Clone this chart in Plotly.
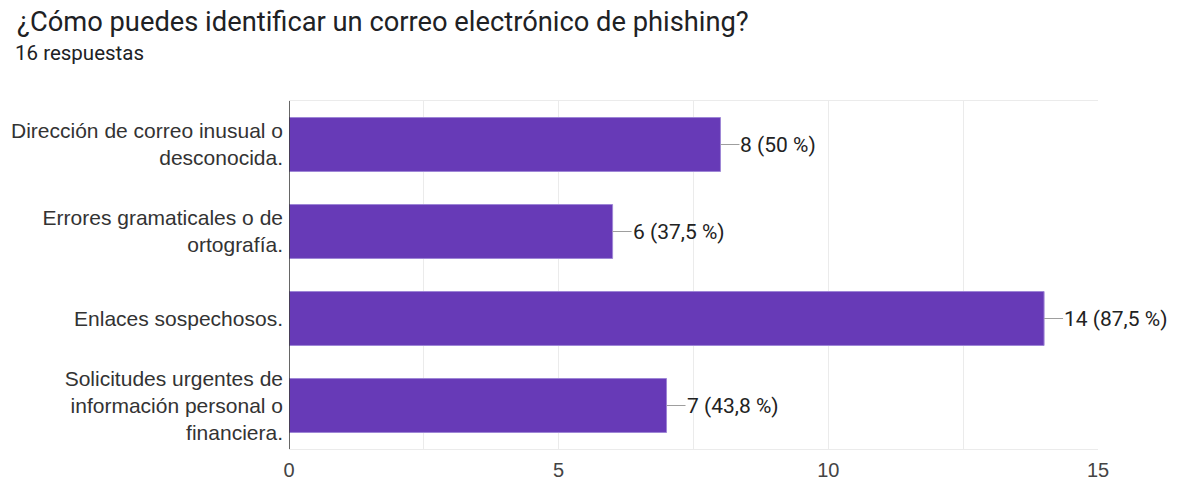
import plotly.graph_objects as go

categories = [
    "Dirección de correo inusual o<br>desconocida.",
    "Errores gramaticales o de<br>ortografía.",
    "Enlaces sospechosos.",
    "Solicitudes urgentes de<br>información personal o<br>financiera.",
]
counts = [8, 6, 14, 7]
labels = ["8 (50 %)", "6 (37,5 %)", "14 (87,5 %)", "7 (43,8 %)"]
tick_vals = [0, 5, 10, 15]

W, H = 1185, 483
L, T, R, B = 289, 101, 1098, 449

fig = go.Figure()
fig.add_trace(go.Bar(
    x=counts, y=categories, orientation="h",
    marker=dict(color="#673AB7", line=dict(color="#9E86D6", width=1)),
    width=0.62, hoverinfo="skip",
))

for c, cat, lab in zip(counts, categories, labels):
    fig.add_annotation(
        x=c, y=cat, xref="x", yref="y", text=lab,
        showarrow=True, arrowhead=0, arrowwidth=1, arrowcolor="#9e9e9e",
        ax=19, ay=0, xanchor="left", yanchor="middle", standoff=0, startstandoff=0,
        borderpad=0,
        font=dict(family="Roboto", size=21, color="#222222"),
    )

fig.add_annotation(
    xref="paper", yref="paper", x=(13 - L) / (R - L), y=(B - 53) / (B - T),
    xanchor="left", yanchor="middle", showarrow=False,
    text="16 respuestas", font=dict(family="Roboto", size=20.5, color="#202124"),
)

fig.update_layout(
    width=W, height=H,
    margin=dict(l=L, r=W - R, t=T, b=H - B),
    paper_bgcolor="white", plot_bgcolor="white",
    showlegend=False,
    title=dict(
        text="¿Cómo puedes identificar un correo electrónico de phishing?",
        xref="container", yref="container", x=17 / W, y=1 - 21 / H,
        xanchor="left", yanchor="middle",
        font=dict(family="Roboto", size=27.3, color="#202124"),
    ),
    xaxis=dict(
        range=[0, 15], tickvals=tick_vals, ticktext=[str(v) for v in tick_vals],
        showgrid=True, gridcolor="#ebebeb", gridwidth=1,
        minor=dict(dtick=2.5, showgrid=True, gridcolor="#ebebeb", gridwidth=1),
        showline=True, mirror=True, linecolor="#ebebeb", linewidth=1,
        zeroline=False, ticks="", ticklabelstandoff=3, automargin=False,
        tickfont=dict(family="Liberation Sans", size=20, color="#444444"),
    ),
    yaxis=dict(
        autorange="reversed", showgrid=False, zeroline=False,
        showline=False, ticks="", ticklabelstandoff=5, automargin=False,
        tickfont=dict(family="Liberation Sans", size=21, color="#333333"),
    ),
    shapes=[dict(type="line", xref="x", yref="paper", x0=0, x1=0, y0=0, y1=1,
                 line=dict(color="#333333", width=1.5))],
)

fig.write_html(
    "out.html",
    config={"displayModeBar": False, "staticPlot": True},
    post_script="document.body.style.margin='0';document.body.style.overflow='hidden';",
)
